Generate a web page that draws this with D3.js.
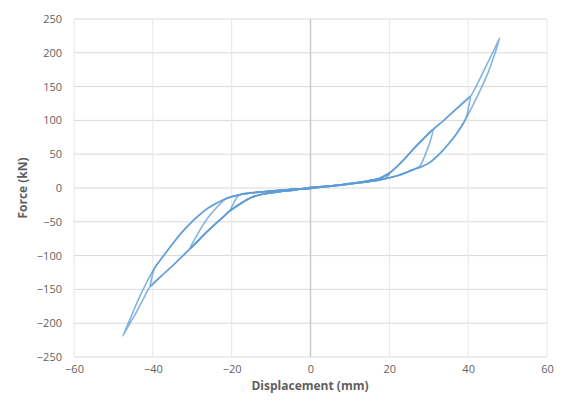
<!DOCTYPE html>
<html>
<head>
<meta charset="utf-8">
<script src="https://cdn.jsdelivr.net/npm/d3@7"></script>
<style>
  body { margin: 0; background: #fff; }
  text { font-family: "Open Sans", "Noto Sans", sans-serif; }
</style>
</head>
<body>
<svg id="chart" width="568" height="418"></svg>
<script>
// Axis ticks
const xTicks = [-60, -40, -20, 0, 20, 40, 60];
const yTicks = [250, 200, 150, 100, 50, 0, -50, -100, -150, -200, -250];

// Cyclic test record, one array per amplitude: [displacement (mm), force (kN)]
const cycle10 = [
  [0, 0], [4, 2.5], [8, 5], [10, 7],
  [9.3, 5.2], [8, 4.2], [4, 2], [0, 0.5],
  [-4, -2.5], [-8, -5.5], [-10, -7.5],
  [-9.3, -5.5], [-8, -4.2], [-4, -2], [0, -0.5]
];
const cycle20 = [
  [0, -0.5], [4, 2.2], [8, 4.8], [12, 8], [15, 11], [17.6, 14.5], [20, 22],
  [19.4, 16.5], [18.5, 13.5], [17.6, 12], [12, 7.5], [6, 3.5], [0, 0.5],
  [-4, -2.8], [-8, -5.5], [-12, -9], [-15, -14], [-18, -24], [-20.3, -33],
  [-19.7, -25], [-19, -17], [-18, -10], [-12, -5.5], [-6, -2.5], [0, -0.5]
];
const cycle30 = [
  [0, -0.5], [4, 2.2], [8, 4.8], [12, 8], [15, 11], [17.6, 14.5], [20, 22],
  [22.7, 36], [26, 57], [28.5, 72], [31, 86],
  [30.3, 68], [29.5, 55], [28.6, 42], [27.8, 33], [26, 27], [22, 18],
  [17.6, 12], [12, 7.5], [6, 3.5], [0, 0.5],
  [-4, -2.8], [-8, -5.5], [-12, -9], [-15, -14], [-18, -24], [-20.3, -33],
  [-22.2, -43], [-26.3, -65], [-30.6, -90],
  [-29, -72], [-27.3, -55], [-25.5, -40], [-23.5, -27], [-21.5, -16],
  [-18, -10], [-12, -5.5], [-6, -2.5], [0, -0.5]
];
const cycle40 = [
  [0, -0.5], [4, 2.2], [8, 4.8], [12, 8], [15, 11], [17.6, 14.5], [20, 22],
  [22.7, 36], [26, 57], [28.5, 72], [31, 86], [34, 101], [37, 117], [40.5, 135],
  [40.1, 120], [39.6, 106], [39, 98], [37, 80], [35, 65], [33, 52],
  [30.3, 38], [28, 31], [26, 27], [22, 18], [17.6, 12], [12, 7.5], [6, 3.5], [0, 0.5],
  [-4, -2.8], [-8, -5.5], [-12, -9], [-15, -14], [-18, -24], [-20.3, -33],
  [-22.2, -43], [-26.3, -65], [-30.6, -90], [-35, -115], [-38, -131], [-40.6, -145],
  [-40.3, -134], [-39.9, -124], [-39.5, -118], [-37, -98], [-34.9, -82],
  [-32.7, -66], [-30.6, -53], [-28.4, -41], [-26.3, -31], [-24, -23],
  [-21.5, -16], [-18, -10], [-12, -5.5], [-6, -2.5], [0, -0.5]
];
const cycle48 = [
  [0, -0.5], [4, 2.2], [8, 4.8], [12, 8], [15, 11], [17.6, 14.5], [20, 22],
  [22.7, 36], [26, 57], [28.5, 72], [31, 86], [34, 101], [37, 117], [40.5, 135],
  [42.5, 156], [44.5, 180], [46.3, 201], [48, 222],
  [46.5, 194], [45, 170], [43, 144], [41, 120], [39, 98], [37, 80], [35, 65],
  [33, 52], [30.3, 38], [28, 31], [26, 27], [22, 18], [17.6, 12],
  [12, 7.5], [6, 3.5], [0, 0.5],
  [-4, -2.8], [-8, -5.5], [-12, -9], [-15, -14], [-18, -24], [-20.3, -33],
  [-22.2, -43], [-26.3, -65], [-30.6, -90], [-35, -115], [-38, -131], [-40.6, -145],
  [-42.5, -165], [-44.3, -185], [-46, -202], [-47.6, -219],
  [-45.5, -190], [-43.5, -163], [-41.5, -139], [-39.5, -118], [-37, -98],
  [-34.9, -82], [-32.7, -66], [-30.6, -53], [-28.4, -41], [-26.3, -31],
  [-24, -23], [-21.5, -16], [-18, -10], [-12, -5.5], [-6, -2.5], [0, -0.5]
];
const cycles = [cycle10, cycle20, cycle30, cycle40, cycle48];

const svg = d3.select("#chart");
const x = d3.scaleLinear().domain([-60, 60]).range([74, 547]);
const y = d3.scaleLinear().domain([-250, 250]).range([357, 19]);

// Horizontal gridlines
svg.append("g").selectAll("line").data(yTicks).join("line")
  .attr("x1", x(-60)).attr("x2", x(60))
  .attr("y1", d => y(d)).attr("y2", d => y(d))
  .attr("stroke", "#d9d9d9").attr("stroke-width", 1);

// Vertical gridlines
svg.append("g").selectAll("line").data(xTicks.filter(d => d !== 0)).join("line")
  .attr("x1", d => x(d)).attr("x2", d => x(d))
  .attr("y1", y(250)).attr("y2", y(-250))
  .attr("stroke", "#e6e6e6").attr("stroke-width", 1);

// Vertical axis line through zero
svg.append("line")
  .attr("x1", x(0)).attr("x2", x(0))
  .attr("y1", y(250)).attr("y2", y(-250))
  .attr("stroke", "#c9c9c9").attr("stroke-width", 1.5);

// Tick labels
const yAxis = svg.append("g").attr("transform", `translate(${x(-60)},0)`)
  .call(d3.axisLeft(y).tickValues(yTicks).tickSize(0).tickPadding(12).tickFormat(d3.format("d")));
const xAxis = svg.append("g").attr("transform", `translate(0,${y(-250)})`)
  .call(d3.axisBottom(x).tickValues(xTicks).tickSize(0).tickPadding(8).tickFormat(d3.format("d")));
[yAxis, xAxis].forEach(a => {
  a.select(".domain").remove();
  a.selectAll("text").attr("fill", "#5f5f5f").attr("font-size", 11)
    .attr("font-family", "\"Open Sans\", sans-serif");
});

// Axis titles
svg.append("text")
  .attr("x", 310).attr("y", 390).attr("text-anchor", "middle")
  .attr("font-size", 12).attr("font-weight", "bold").attr("fill", "#5f5f5f")
  .text("Displacement (mm)");
svg.append("text")
  .attr("transform", "translate(27,188) rotate(-90)").attr("text-anchor", "middle")
  .attr("font-size", 12).attr("font-weight", "bold").attr("fill", "#5f5f5f")
  .text("Force (kN)");

// Hysteresis loops
const line = d3.line()
  .x(d => x(d[0])).y(d => y(d[1]))
  .curve(d3.curveCatmullRom.alpha(0.5));
svg.append("g").selectAll("path").data(cycles).join("path")
  .attr("d", line)
  .attr("fill", "none")
  .attr("stroke", "#5b9bd5")
  .attr("stroke-opacity", 0.75)
  .attr("stroke-width", 1.6)
  .attr("stroke-linejoin", "round");
</script>
</body>
</html>
